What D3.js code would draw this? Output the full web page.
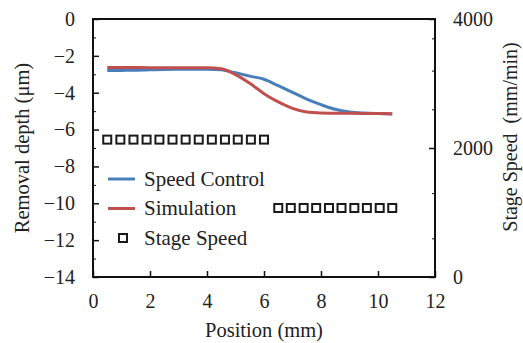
<!DOCTYPE html>
<html>
<head>
<meta charset="utf-8">
<script src="https://cdn.jsdelivr.net/npm/d3@7"></script>
<style>
  body { margin: 0; background: #fff; }
  svg text { font-family: "Liberation Serif", "Times New Roman", serif; }
</style>
</head>
<body>
<div id="chart"></div>
<script>
// data
var ctrlPos   = [0.5, 1.0, 1.5, 2.0, 2.5, 3.0, 3.5, 4.0, 4.5, 5.0, 5.5, 6.0, 6.5, 7.0, 7.5, 8.0, 8.5, 9.0, 9.5, 10.0, 10.5];
var ctrlDepth = [-2.80, -2.79, -2.78, -2.76, -2.74, -2.73, -2.72, -2.72, -2.76, -2.92, -3.10, -3.27, -3.62, -3.98, -4.35, -4.65, -4.90, -5.04, -5.10, -5.13, -5.15];

var simPos   = [0.5, 1.0, 2.0, 3.0, 4.0, 4.5, 5.0, 5.5, 6.0, 6.5, 7.0, 7.5, 8.0, 9.0, 10.0, 10.5];
var simDepth = [-2.63, -2.63, -2.64, -2.65, -2.65, -2.70, -3.02, -3.49, -4.05, -4.50, -4.85, -5.05, -5.10, -5.12, -5.13, -5.14];

var stagePos   = [0.5, 0.96, 1.42, 1.88, 2.33, 2.79, 3.25, 3.71, 4.17, 4.63, 5.08, 5.54, 6.0,
                  6.5, 6.94, 7.39, 7.83, 8.28, 8.72, 9.17, 9.61, 10.06, 10.5];
var stageSpeed = [2130, 2130, 2130, 2130, 2130, 2130, 2130, 2130, 2130, 2130, 2130, 2130, 2130,
                  1070, 1070, 1070, 1070, 1070, 1070, 1070, 1070, 1070, 1070];

var xTicks  = [0, 2, 4, 6, 8, 10, 12];
var yTicks  = [0, -2, -4, -6, -8, -10, -12, -14];
var y2Ticks = [0, 2000, 4000];
var legendNames = ["Speed Control", "Simulation", "Stage Speed"];

var width = 523, height = 343;
var margin = {top: 19, right: 88, bottom: 66, left: 93};
var w = width - margin.left - margin.right;
var h = height - margin.top - margin.bottom;

var blue = "#4a7ebb", red = "#c0504d";

var svg = d3.select("#chart").append("svg")
  .attr("width", width)
  .attr("height", height);

var g = svg.append("g").attr("transform", "translate(" + margin.left + "," + margin.top + ")");

var x = d3.scaleLinear().domain([0, 12]).range([0, w]);
var y = d3.scaleLinear().domain([-14, 0]).range([h, 0]);
var y2 = d3.scaleLinear().domain([0, 4000]).range([h, 0]);

// minor ticks, inside
g.append("g").call(d3.axisRight(y).tickValues(d3.range(-13, 0, 2)).tickSize(3).tickFormat(""))
  .call(function(a) { a.select(".domain").remove(); });
g.append("g").attr("transform", "translate(" + w + ",0)")
  .call(d3.axisLeft(y2).tickValues([600, 1300, 2600, 3200, 3700]).tickSize(3).tickFormat(""))
  .call(function(a) { a.select(".domain").remove(); });

// x axis
var xAxis = g.append("g").attr("transform", "translate(0," + h + ")")
  .call(d3.axisTop(x).tickValues(xTicks).tickSize(6).tickFormat(d3.format("d")));
xAxis.selectAll("text").attr("y", 31);

// left axis
var yAxis = g.append("g")
  .call(d3.axisRight(y).tickValues(yTicks).tickSize(6).tickFormat(d3.format("d")));
yAxis.selectAll("text").attr("x", -18).attr("text-anchor", "end");

// right axis
var y2Axis = g.append("g").attr("transform", "translate(" + w + ",0)")
  .call(d3.axisLeft(y2).tickValues(y2Ticks).tickSize(6).tickFormat(d3.format("d")));
y2Axis.selectAll("text").attr("x", 18).attr("text-anchor", "start");

[xAxis, yAxis, y2Axis].forEach(function(a) {
  a.select(".domain").remove();
  a.selectAll("line").attr("stroke-width", 1.5);
  a.selectAll("text").attr("fill", "#222").style("font-size", "20px");
});
g.selectAll(".tick line").attr("stroke", "#111");

// frame
g.append("rect").attr("width", w).attr("height", h)
  .attr("fill", "none").attr("stroke", "#111").attr("stroke-width", 2);

// curves
var line = d3.line().curve(d3.curveMonotoneX)
  .x(function(d) { return x(d[0]); })
  .y(function(d) { return y(d[1]); });

g.append("path")
  .datum(d3.zip(ctrlPos, ctrlDepth))
  .attr("d", line).attr("fill", "none").attr("stroke", blue).attr("stroke-width", 3);

g.append("path")
  .datum(d3.zip(simPos, simDepth))
  .attr("d", line).attr("fill", "none").attr("stroke", red).attr("stroke-width", 3);

// stage speed squares
var sq = 8;
g.selectAll("rect.stage")
  .data(d3.zip(stagePos, stageSpeed))
  .enter().append("rect")
  .attr("class", "stage")
  .attr("x", function(d) { return x(d[0]) - sq / 2; })
  .attr("y", function(d) { return y2(d[1]) - sq / 2; })
  .attr("width", sq).attr("height", sq)
  .attr("fill", "#fff").attr("stroke", "#1a1a1a").attr("stroke-width", 2);

// legend
var lg = svg.append("g").attr("transform", "translate(108,179)");
legendNames.forEach(function(name, i) {
  var row = lg.append("g").attr("transform", "translate(0," + (i * 29.5) + ")");
  if (i < 2) {
    row.append("line").attr("x1", 0).attr("x2", 27)
      .attr("stroke", i == 0 ? blue : red).attr("stroke-width", 3);
  } else {
    row.append("rect").attr("x", 11).attr("y", -4).attr("width", sq).attr("height", sq)
      .attr("fill", "#fff").attr("stroke", "#1a1a1a").attr("stroke-width", 2);
  }
  row.append("text").attr("x", 36).attr("dy", "0.33em")
    .attr("fill", "#222").style("font-size", "21px")
    .text(name);
});

// axis titles
function title(sel) {
  return sel.append("text").attr("fill", "#222")
    .style("font-size", "20.5px")
    .attr("text-anchor", "middle");
}

title(svg)
  .attr("x", margin.left + w / 2).attr("y", 337)
  .text("Position (mm)");

title(svg)
  .attr("transform", "translate(29,148) rotate(-90)")
  .text("Removal depth (\u03bcm)");

title(svg)
  .attr("transform", "translate(517,137) rotate(-90)")
  .style("font-size", "20px")
  .style("white-space", "pre")
  .text("Stage Speed  (mm/min)");
</script>
</body>
</html>
